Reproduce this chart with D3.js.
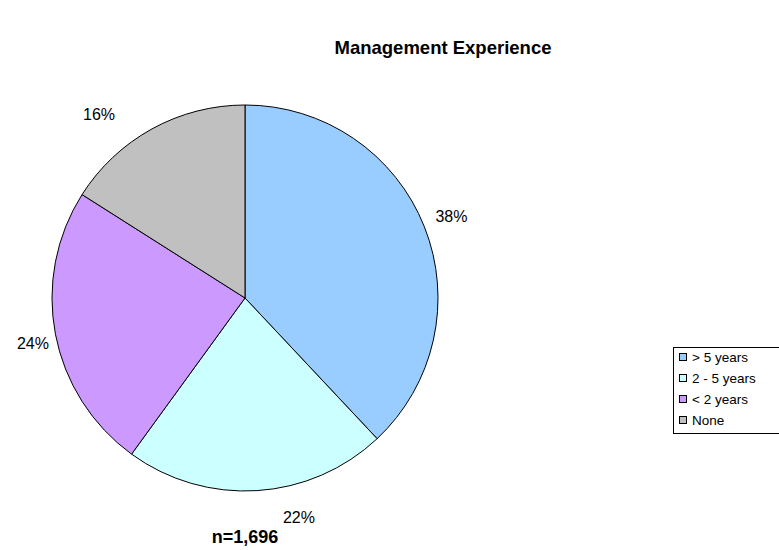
<!DOCTYPE html>
<html>
<head>
<meta charset="utf-8">
<script src="https://cdn.jsdelivr.net/npm/d3@7"></script>
<style>
  html, body { margin: 0; padding: 0; background: #fff; }
  svg { display: block; font-family: "Liberation Sans", Arial, sans-serif; }
</style>
</head>
<body>
<svg id="chart" width="779" height="550"></svg>
<script>
// Share of respondents by years of management experience
const categories = ["> 5 years", "2 - 5 years", "< 2 years", "None"];
const shares = [38, 22, 24, 16];
const colors = ["#99CCFF", "#CCFFFF", "#CC99FF", "#C0C0C0"];
const title = "Management Experience";
const sampleNote = "n=1,696";

const svg = d3.select("#chart");
const cx = 245, cy = 298, r = 193;

svg.append("text")
  .attr("x", 443).attr("y", 54)
  .attr("text-anchor", "middle")
  .attr("font-size", 18.5).attr("font-weight", "bold")
  .text(title);

const pie = d3.pie().sort(null).value(d => d.v);
const arcs = pie(categories.map((c, i) => ({ c, v: shares[i], col: colors[i] })));
const arc = d3.arc().innerRadius(0).outerRadius(r);
const labelArc = d3.arc().innerRadius(222).outerRadius(222);

const g = svg.append("g").attr("transform", `translate(${cx},${cy})`);
g.selectAll("path").data(arcs).join("path")
  .attr("d", arc)
  .attr("fill", d => d.data.col)
  .attr("stroke", "#000").attr("stroke-width", 1);

// small nudges so the labels sit just outside their slices
const labelNudge = [[0, 0], [40, -3], [6, 3], [-39, 11]];
g.selectAll("text.pct").data(arcs).join("text")
  .attr("class", "pct")
  .attr("x", (d, i) => labelArc.centroid(d)[0] + labelNudge[i][0])
  .attr("y", (d, i) => labelArc.centroid(d)[1] + labelNudge[i][1] + 6)
  .attr("text-anchor", "middle")
  .attr("font-size", 16)
  .text(d => d.data.v + "%");

svg.append("text")
  .attr("x", cx).attr("y", 543)
  .attr("text-anchor", "middle")
  .attr("font-size", 18).attr("font-weight", "bold")
  .text(sampleNote);

// legend
const lg = svg.append("g").attr("transform", "translate(673,347)");
lg.append("rect")
  .attr("x", 0.5).attr("y", 0.5)
  .attr("width", 120).attr("height", 86)
  .attr("fill", "#fff").attr("stroke", "#000").attr("stroke-width", 1);
const rowY = d3.scalePoint().domain(categories).range([10, 73]);
const items = lg.selectAll("g.item").data(arcs).join("g")
  .attr("class", "item")
  .attr("transform", d => `translate(0,${rowY(d.data.c)})`);
items.append("rect")
  .attr("x", 6.5).attr("y", -3.5).attr("width", 7).attr("height", 7)
  .attr("fill", d => d.data.col).attr("stroke", "#000").attr("stroke-width", 1);
items.append("text")
  .attr("x", 19).attr("y", 5)
  .attr("font-size", 13.5)
  .text(d => d.data.c);
</script>
</body>
</html>
